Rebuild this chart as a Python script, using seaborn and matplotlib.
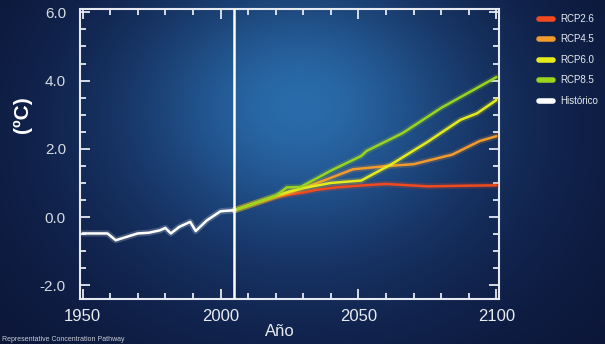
import numpy as np
import pandas as pd
import matplotlib.pyplot as plt
import matplotlib.patheffects as pe
from matplotlib.lines import Line2D
from matplotlib.ticker import MultipleLocator
import seaborn as sns

sns.set_style('ticks')
plt.rcParams['font.family'] = ['Liberation Sans', 'DejaVu Sans']

# datos
hist_years = [1950, 1959, 1962, 1966, 1970, 1974, 1978, 1980, 1982, 1985, 1989, 1991, 1995, 2000, 2005]
hist_vals = [-0.48, -0.48, -0.68, -0.58, -0.48, -0.46, -0.39, -0.32, -0.48, -0.29, -0.14, -0.41, -0.10, 0.17, 0.20]

rcp26_years = [2005, 2010, 2015, 2020, 2025, 2030, 2035, 2042, 2050, 2060, 2075, 2090, 2100]
rcp26_vals = [0.20, 0.32, 0.45, 0.58, 0.66, 0.72, 0.80, 0.87, 0.92, 0.97, 0.90, 0.92, 0.93]

rcp45_years = [2005, 2010, 2015, 2020, 2025, 2030, 2035, 2040, 2048, 2061, 2070, 2084, 2094, 2100]
rcp45_vals = [0.20, 0.34, 0.47, 0.60, 0.72, 0.85, 1.00, 1.15, 1.40, 1.50, 1.55, 1.83, 2.23, 2.37]

rcp60_years = [2005, 2010, 2015, 2020, 2025, 2030, 2040, 2051, 2062, 2075, 2087, 2093, 2100]
rcp60_vals = [0.20, 0.34, 0.48, 0.62, 0.75, 0.85, 1.00, 1.07, 1.55, 2.20, 2.85, 3.04, 3.43]

rcp85_years = [2005, 2010, 2015, 2020, 2024, 2029, 2040, 2051, 2053, 2066, 2080, 2100]
rcp85_vals = [0.20, 0.33, 0.48, 0.62, 0.87, 0.88, 1.36, 1.79, 1.94, 2.46, 3.20, 4.10]

labels = ['RCP2.6', 'RCP4.5', 'RCP6.0', 'RCP8.5', 'Histórico']
colors = ['#f04a1e', '#f29a2c', '#e6ec1c', '#9ad41e', '#ffffff']

frames = []
for lab, yrs, vals in zip(labels,
                          [rcp26_years, rcp45_years, rcp60_years, rcp85_years, hist_years],
                          [rcp26_vals, rcp45_vals, rcp60_vals, rcp85_vals, hist_vals]):
    frames.append(pd.DataFrame({'Año': yrs, 'T': vals, 'serie': lab}))
df = pd.concat(frames, ignore_index=True)

fig = plt.figure(figsize=(6.05, 3.44), dpi=100)

# fondo azul oscuro con resplandor
H, W = 344, 605
yy, xx = np.mgrid[0:H, 0:W]
d_glow = ((xx - 300) / 150) ** 2 + ((yy - 100) / 120) ** 2
d_mid = ((xx - 300) / 300) ** 2 + ((yy - 140) / 240) ** 2
base = np.array([9, 16, 46]) / 255
mid = np.array([24, 52, 105]) / 255
glow = np.array([42, 108, 172]) / 255
img = (base + (mid - base) * np.exp(-d_mid)[..., None]
       + (glow - mid) * np.exp(-d_glow)[..., None])
bg = fig.add_axes([0, 0, 1, 1], zorder=0)
bg.imshow(np.clip(img, 0, 1), aspect='auto')
bg.axis('off')

ax = fig.add_axes([0.132, 0.131, 0.693, 0.843], zorder=1)
ax.set_facecolor('none')

sns.lineplot(data=df, x='Año', y='T', hue='serie', hue_order=labels,
             palette=dict(zip(labels, colors)), linewidth=1.8, legend=False,
             ax=ax, zorder=3)
for line in ax.lines:
    line.set_path_effects([pe.Stroke(linewidth=4.5, foreground=line.get_color(), alpha=0.2),
                           pe.Normal()])

ax.axvline(2005, color='white', lw=1.8, zorder=4)

ax.set_xlim(1949, 2101)
ax.set_ylim(-2.4, 6.1)
ax.set_xticks([1950, 2000, 2050, 2100])
ax.set_yticks([-2, 0, 2, 4, 6])
ax.set_yticklabels(['-2.0', '0.0', '2.0', '4.0', '6.0'])
ax.xaxis.set_minor_locator(MultipleLocator(10))
ax.yaxis.set_minor_locator(MultipleLocator(0.5))
ax.tick_params(which='both', direction='in', colors='#e6e9ef',
               top=True, right=True, width=1.3)
ax.tick_params(which='major', length=7)
ax.tick_params(which='minor', length=4)
ax.tick_params(axis='x', labelsize=12, labelcolor='#e8ebf0', pad=7)
ax.tick_params(axis='y', labelsize=11, labelcolor='#d6dbe3', pad=10)
for sp in ax.spines.values():
    sp.set_color('#e6e9ef')
    sp.set_linewidth(1.5)

ax.set_xlabel('Año', color='#e8ebf0', fontsize=12)
ax.xaxis.set_label_coords(0.477, -0.085)
ax.xaxis.label.set_va('top')
ax.set_ylabel('(ºC)', color='white', fontsize=15, fontweight='bold')
ax.yaxis.set_label_coords(-0.138, 0.634)
ax.yaxis.label.set_va('center')

handles = [Line2D([0], [0], color=c, lw=4) for c in colors]
leg = fig.legend(handles, labels, loc='upper left', bbox_to_anchor=(0.877, 0.985),
                 frameon=False, fontsize=7, handlelength=1.4, labelspacing=1.08,
                 handletextpad=0.8)
for t in leg.get_texts():
    t.set_color('#e8ebf0')

fig.text(0.003, 0.008, 'Representative Concentration Pathway', color='#c8cdd6', fontsize=5)

fig.savefig('out.png', dpi=100)
